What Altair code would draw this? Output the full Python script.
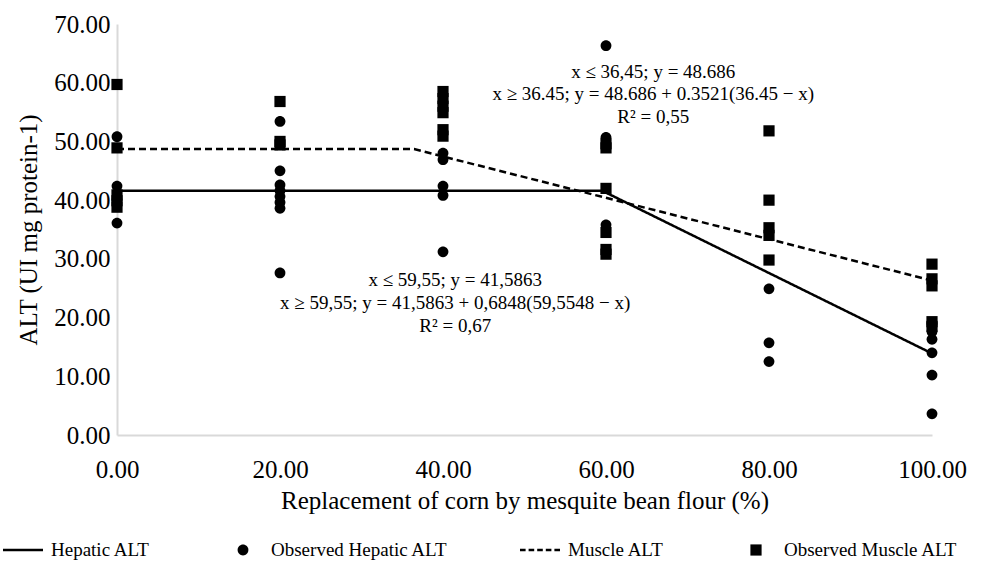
import altair as alt
import pandas as pd

# ---------------- data ----------------
series_order = ["Hepatic ALT", "Observed Hepatic ALT", "Muscle ALT", "Observed Muscle ALT"]

hep_obs_x = [0, 0, 0, 0,
             20, 20, 20, 20, 20, 20, 20, 20,
             40, 40, 40, 40, 40,
             60, 60, 60,
             80, 80, 80,
             100, 100, 100, 100, 100, 100]
hep_obs_y = [50.8, 42.4, 40.0, 36.1,
             53.4, 45.0, 42.6, 41.6, 40.6, 39.6, 38.6, 27.6,
             48.0, 46.9, 42.4, 40.8, 31.2,
             66.3, 50.7, 35.8,
             24.9, 15.7, 12.5,
             19.0, 17.6, 16.3, 14.0, 10.2, 3.6]

mus_obs_x = [0, 0, 0, 0, 0,
             20, 20, 20,
             40, 40, 40, 40, 40, 40,
             60, 60, 60, 60, 60, 60,
             80, 80, 80, 80, 80,
             100, 100, 100, 100, 100]
mus_obs_y = [59.7, 48.9, 40.9, 39.9, 38.8,
             56.8, 50.0, 49.4,
             58.5, 57.3, 56.0, 54.9, 52.0, 50.9,
             49.6, 48.9, 42.0, 34.5, 31.6, 30.8,
             51.8, 40.0, 35.3, 34.0, 29.8,
             29.1, 26.6, 25.4, 19.3, 18.5]

hep_fit_x = [0, 59.55, 100]
hep_fit_y = [41.59, 41.59, 13.89]
mus_fit_x = [0, 36.45, 100]
mus_fit_y = [48.69, 48.69, 26.31]

ann1_lines = ["x ≤ 36,45; y = 48.686",
              "x ≥ 36.45; y = 48.686 + 0.3521(36.45 − x)",
              "R² = 0,55"]
ann2_lines = ["x ≤ 59,55; y = 41,5863",
              "x ≥ 59,55; y = 41,5863 + 0,6848(59,5548 − x)",
              "R² = 0,67"]

x_ticks = [0, 20, 40, 60, 80, 100]
y_ticks = [0, 10, 20, 30, 40, 50, 60, 70]

# ---------------- tables ----------------
obs = pd.concat([
    pd.DataFrame({"x": hep_obs_x, "y": hep_obs_y, "series": "Observed Hepatic ALT"}),
    pd.DataFrame({"x": mus_obs_x, "y": mus_obs_y, "series": "Observed Muscle ALT"}),
], ignore_index=True)

fit = pd.concat([
    pd.DataFrame({"x": hep_fit_x, "y": hep_fit_y, "series": "Hepatic ALT"}),
    pd.DataFrame({"x": mus_fit_x, "y": mus_fit_y, "series": "Muscle ALT"}),
], ignore_index=True)

ann = pd.DataFrame({
    "text": ann1_lines + ann2_lines,
    "x": [65.8] * 3 + [41.5] * 3,
    "y": [61.8, 58.0, 54.1, 26.4, 22.5, 18.6],
})

FONT = "Liberation Serif"

# symbol shapes (unit space, scaled by sqrt(size)/2)
SOLID = "M-1,-0.065H1V0.065H-1Z"
DASHED = ("M-1,-0.065H-0.72V0.065H-1Z M-0.57,-0.065H-0.29V0.065H-0.57Z "
          "M-0.14,-0.065H0.14V0.065H-0.14Z M0.29,-0.065H0.57V0.065H0.29Z "
          "M0.72,-0.065H1V0.065H0.72Z")
CIRCLE = "M0.27,0A0.27,0.27,0,1,1,-0.27,0A0.27,0.27,0,1,1,0.27,0Z"
SQUARE = "M-0.28,-0.28H0.28V0.28H-0.28Z"

x_enc = alt.X("x:Q", scale=alt.Scale(domain=[0, 100], nice=False),
              axis=alt.Axis(values=x_ticks, format=".2f", labelPadding=22,
                            title="Replacement of corn by mesquite bean flour (%)",
                            titlePadding=6))
y_enc = alt.Y("y:Q", scale=alt.Scale(domain=[0, 70], nice=False),
              axis=alt.Axis(values=y_ticks, format=".2f", labelPadding=7,
                            title="ALT (UI mg protein-1)", titlePadding=12))

legend = alt.Legend(title=None, orient="none", direction="horizontal", columns=4,
                    legendX=-114, legendY=506, columnPadding=72, labelLimit=400)

shape_scale = alt.Scale(domain=series_order, range=[SOLID, CIRCLE, DASHED, SQUARE])
dash_scale = alt.Scale(domain=["Hepatic ALT", "Muscle ALT"], range=[[1, 0], [7, 4]])

lines = alt.Chart(fit).mark_line(color="black", strokeWidth=2.5).encode(
    x=x_enc, y=y_enc,
    strokeDash=alt.StrokeDash("series:N", scale=dash_scale, legend=None),
    order="x:Q",
)

points = alt.Chart(obs).mark_point(filled=True, color="black", opacity=1, size=1600).encode(
    x=x_enc, y=y_enc,
    shape=alt.Shape("series:N", scale=shape_scale, legend=legend),
)

texts = alt.Chart(ann).mark_text(font=FONT, fontSize=19,
                                 color="black", align="center", baseline="middle").encode(
    x="x:Q", y="y:Q", text="text:N")

chart = alt.layer(lines, points, texts).resolve_scale(strokeDash="independent").properties(
    width=815, height=411,
    autosize=alt.AutoSizeParams(type="none"),
    padding={"left": 117, "top": 24, "right": 52, "bottom": 126},
).configure_view(strokeWidth=0).configure_axis(
    labelFont=FONT, labelFontSize=25, labelColor="black",
    titleFont=FONT, titleFontSize=25, titleFontWeight="normal", titleColor="black",
    domainColor="#d9d9d9", domainWidth=2, ticks=False, grid=False,
    labelFlush=False, labelOverlap=False,
).configure_legend(
    labelFont=FONT, labelFontSize=19, labelColor="black",
    symbolSize=1600, symbolFillColor="black", symbolStrokeWidth=0,
    labelOffset=8,
)

chart.save("out.html", embed_options={"renderer": "svg", "actions": False})
